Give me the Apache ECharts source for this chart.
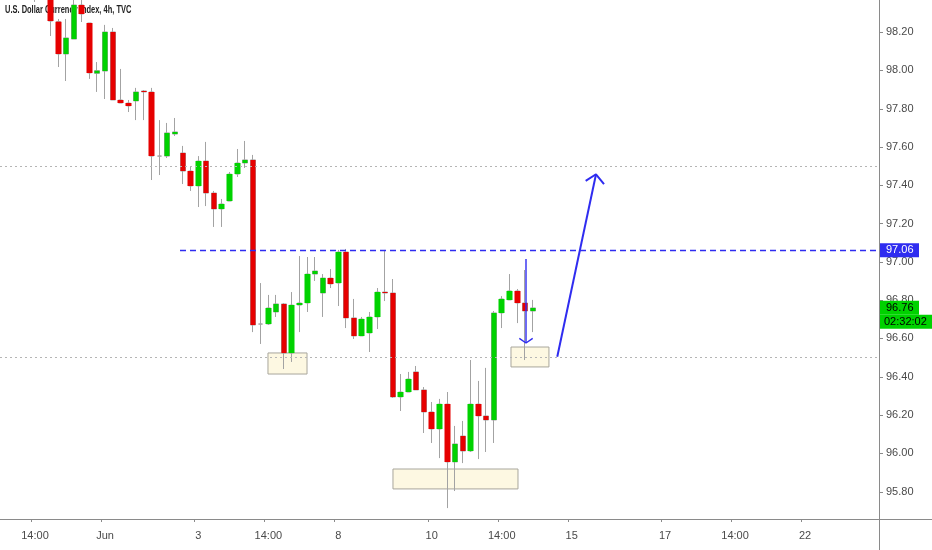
<!DOCTYPE html>
<html><head><meta charset="utf-8">
<script src="https://cdn.jsdelivr.net/npm/echarts@6/dist/echarts.min.js"></script>
<style>html,body{margin:0;padding:0;background:#fff}#c{width:932px;height:550px}</style>
</head><body><div id="c"></div>
<script>
const chartTitle = 'U.S. Dollar Currency Index, 4h, TVC';
const totalSlots = 113;
const firstIndex = 4;
const opens  = [98.45,98.48,98.40,98.254,98.085,98.163,98.341,98.247,97.984,97.996,98.200,97.845,97.829,97.840,97.892,97.887,97.552,97.552,97.667,97.568,97.474,97.396,97.526,97.359,97.276,97.317,97.458,97.516,97.532,96.675,96.675,96.738,96.780,96.524,96.774,96.785,96.936,96.837,96.915,96.889,97.051,96.707,96.613,96.628,96.712,96.842,96.837,96.294,96.320,96.425,96.331,96.216,96.127,96.257,95.955,96.090,96.012,96.257,96.195,96.174,96.733,96.801,96.848,96.785,96.743];
const closes = [98.42,98.52,98.257,98.085,98.169,98.341,98.294,97.986,97.998,98.200,97.845,97.829,97.814,97.887,97.887,97.552,97.552,97.673,97.678,97.474,97.396,97.526,97.359,97.276,97.302,97.458,97.516,97.532,96.670,96.675,96.759,96.780,96.524,96.774,96.785,96.936,96.952,96.915,96.884,97.051,96.707,96.613,96.701,96.712,96.842,96.837,96.294,96.320,96.388,96.331,96.216,96.127,96.257,95.955,96.049,96.012,96.257,96.195,96.174,96.733,96.806,96.848,96.785,96.743,96.759];
const lows   = [98.357,98.40,98.179,98.017,97.944,98.163,98.252,97.955,97.887,97.850,97.845,97.829,97.782,97.740,97.740,97.427,97.453,97.542,97.657,97.406,97.370,97.286,97.291,97.182,97.182,97.317,97.443,97.490,96.633,96.571,96.670,96.712,96.440,96.477,96.633,96.738,96.900,96.712,96.863,96.769,96.654,96.597,96.613,96.529,96.649,96.795,96.289,96.221,96.320,96.331,96.106,96.054,95.975,95.714,95.803,95.949,96.007,95.970,96.007,96.054,96.654,96.801,96.680,96.487,96.633];
const highs  = [98.50,98.55,98.45,98.268,98.268,98.40,98.40,98.247,98.043,98.237,98.221,98.007,97.845,97.908,97.897,97.908,97.740,97.725,97.751,97.605,97.495,97.552,97.626,97.370,97.328,97.469,97.589,97.631,97.558,96.889,96.827,96.827,96.785,96.842,97.030,97.025,97.025,96.936,96.962,97.062,97.067,96.806,96.712,96.738,96.863,97.062,96.910,96.414,96.425,96.456,96.346,96.268,96.284,96.320,96.143,96.169,96.487,96.378,96.446,96.743,96.821,96.936,96.858,96.957,96.801];

const tickIdx  = [4,13,25,34,43,55,64,73,85,94,103];
const tickText = ['14:00','Jun','3','14:00','8','10','14:00','15','17','14:00','22'];
const priceTicks = [95.8,96.0,96.2,96.4,96.6,96.8,97.0,97.2,97.4,97.6,97.8,98.0,98.2];
const yMin = 95.657, yMax = 98.367;

const resistance = 97.06;
const resistanceStart = 22.64;
const dottedLevels = [97.5, 96.5];
const boxes = [[33.95,96.524,38.97,96.414],[50.02,95.918,66.09,95.814],[65.19,96.555,70.07,96.451]];
const bigArrowShaft = [[71.14,96.504],[76.12,97.457]];
const bigArrowHead = [[74.79,97.423],[76.12,97.457],[77.15,97.405]];
const smallArrowShaft = [[67.12,97.015],[67.12,96.576]];
const smallArrowHead = [[66.26,96.600],[67.12,96.576],[67.98,96.600]];
const lastPrice = 96.76;
const countdown = '02:32:02';

const FONT = '"Liberation Sans",Arial,sans-serif';
const BLUE = '#2f2cf0', GREEN = '#00d200', RED = '#e60000', WICK = '#a3a3a3', AXIS = '#8a8a8a';

const categories = [];
for (let i = 0; i < totalSlots; i++) {
  const k = tickIdx.indexOf(i);
  categories.push(k >= 0 ? tickText[k] : '');
}
const candles = [];
for (let i = 0; i < totalSlots; i++) {
  const j = i - firstIndex;
  if (j >= 0 && j < opens.length) candles.push([opens[j], closes[j], lows[j], highs[j]]);
  else candles.push('-');
}

const chart = echarts.init(document.getElementById('c'), null, {renderer: 'canvas'});
const lineSeries = (data, w) => ({
  type: 'line', xAxisIndex: 1, yAxisIndex: 0, data: data, symbol: 'none', silent: true,
  lineStyle: {color: BLUE, width: w}, z: 5, animation: false
});
chart.setOption({
  animation: false,
  backgroundColor: '#ffffff',
  grid: {left: 0, right: 53, top: 0, bottom: 31, containLabel: false},
  xAxis: [{
    type: 'category', data: categories, boundaryGap: true,
    axisLine: {show: false},
    axisTick: {show: true, length: 3, lineStyle: {color: AXIS}, interval: (i, v) => v !== ''},
    axisLabel: {interval: 0, margin: 11, fontFamily: FONT, fontSize: 11, color: '#4a4a4a'},
    splitLine: {show: false}
  }, {
    type: 'value', min: -0.5, max: totalSlots - 0.5, show: false
  }],
  yAxis: [{
    type: 'value', position: 'right', min: yMin, max: yMax, scale: true,
    axisLine: {show: false},
    axisTick: {show: false},
    axisLabel: {margin: 7, fontFamily: FONT, fontSize: 11, color: '#4a4a4a',
      customValues: priceTicks, formatter: v => v.toFixed(2)},
    splitLine: {show: false}
  }],
  series: [
    {
      type: 'candlestick', data: candles, barWidth: 5, z: 2,
      itemStyle: {color: WICK, color0: WICK, borderColor: WICK, borderColor0: WICK, borderColorDoji: WICK, borderWidth: 1}
    },
    {
      type: 'candlestick', data: candles, barWidth: 6, z: 3,
      itemStyle: {color: GREEN, color0: RED, borderColor: GREEN, borderColor0: RED, borderColorDoji: WICK, borderWidth: 0}
    },
    {
      type: 'line', xAxisIndex: 1, yAxisIndex: 0, data: [], z: 1,
      markArea: {
        silent: true, z: 1,
        itemStyle: {color: 'rgba(250,240,190,0.45)', borderColor: '#a8a69c', borderWidth: 1},
        data: boxes.map(b => [{coord: [b[0], b[1]]}, {coord: [b[2], b[3]]}])
      },
      markLine: {
        silent: true, symbol: ['none', 'none'], label: {show: false},
        data: dottedLevels.map(v => ({yAxis: v, lineStyle: {color: '#b5b5b5', type: [2, 3], width: 1}}))
          .concat([[{coord: [resistanceStart, resistance], lineStyle: {color: BLUE, type: [6, 4], width: 1.3}},
                    {coord: [totalSlots - 0.5, resistance]}]])
      }
    },
    lineSeries(bigArrowShaft, 2),
    lineSeries(bigArrowHead, 2),
    lineSeries(smallArrowShaft, 1.4),
    lineSeries(smallArrowHead, 1.4)
  ]
});

const yR = chart.convertToPixel({yAxisIndex: 0}, resistance);
const yP = chart.convertToPixel({yAxisIndex: 0}, lastPrice);
const axX = chart.convertToPixel({xAxisIndex: 1}, totalSlots - 0.5);
const axY = chart.convertToPixel({yAxisIndex: 0}, yMin);
const tagText = (x, y, t, c) => ({type: 'text', x: x, y: y, z: 20,
  style: {text: t, fill: c, font: '11px ' + FONT, verticalAlign: 'middle'}});
const tickLines = priceTicks.map(v => {
  const y = Math.round(chart.convertToPixel({yAxisIndex: 0}, v)) + 0.5;
  return {type: 'line', z: 10, shape: {x1: axX, y1: y, x2: axX + 4, y2: y}, style: {stroke: AXIS, lineWidth: 1}};
});
chart.setOption({
  graphic: [
    {type: 'text', x: 5, y: 10, z: 0, zlevel: 0, scaleX: 0.68,
      style: {text: chartTitle, fill: '#222', font: 'bold 11px ' + FONT, verticalAlign: 'middle'}},
    {type: 'line', z: 10, shape: {x1: 0, y1: Math.round(axY) + 0.5, x2: 932, y2: Math.round(axY) + 0.5}, style: {stroke: AXIS, lineWidth: 1}},
    {type: 'line', z: 10, shape: {x1: Math.round(axX) + 0.5, y1: 0, x2: Math.round(axX) + 0.5, y2: 550}, style: {stroke: AXIS, lineWidth: 1}},
    ...tickLines,
    {type: 'rect', z: 19, shape: {x: axX + 1, y: yR - 7, width: 39, height: 14}, style: {fill: BLUE}},
    tagText(axX + 7, yR, resistance.toFixed(2), '#ffffff'),
    {type: 'rect', z: 19, shape: {x: axX + 1, y: yP - 7, width: 39, height: 14}, style: {fill: GREEN}},
    tagText(axX + 7, yP, lastPrice.toFixed(2), '#000000'),
    {type: 'rect', z: 19, shape: {x: axX + 1, y: yP + 7, width: 52, height: 14}, style: {fill: GREEN}},
    tagText(axX + 5, yP + 14, countdown, '#000000')
  ]
});
</script>
</body></html>
